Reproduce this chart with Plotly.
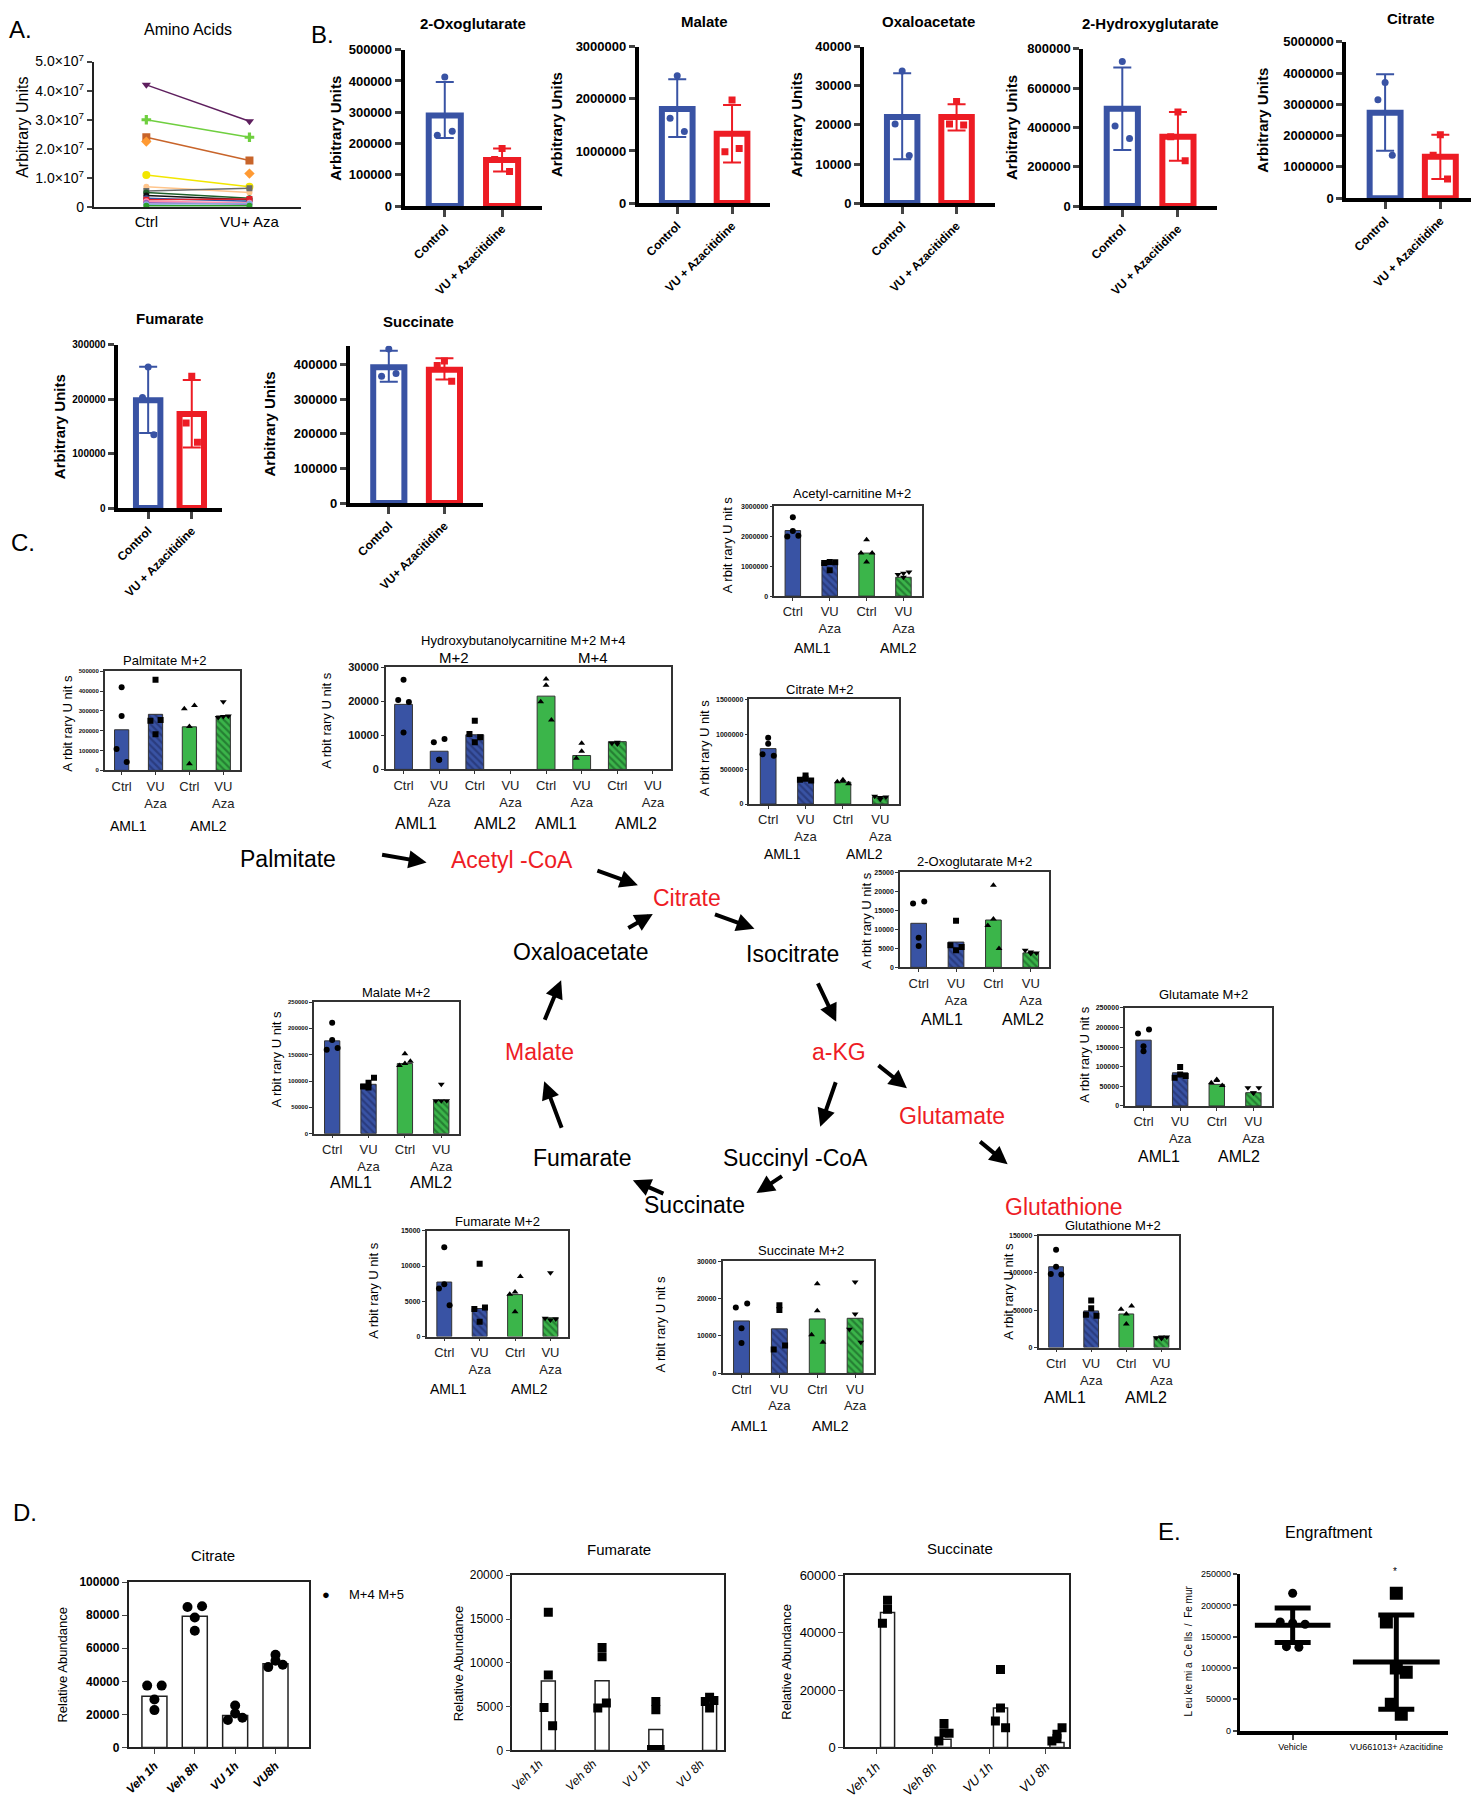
import plotly.graph_objects as go

W, H = 1479, 1800
OFF = 8                      # page body margin: the figure starts 8px in from the window corner
FW, FH = W - OFF, H - OFF
SANS = "Liberation Sans, Arial, sans-serif"
BLUE, RED, GREEN = "#3953a4", "#ed1c24", "#3bb54a"
DARK_B, DARK_G = "#1b2559", "#0f4a1c"

# ---------------- A. Amino acids (Ctrl -> VU+Aza) ----------------
aa_groups = ["Ctrl", "VU+ Aza"]
aa_ctrl = [4.2e7, 3.0e7, 2.4e7, 2.25e7, 1.1e7, 0.7e7, 0.55e7, 0.5e7, 0.4e7, 0.3e7, 0.25e7, 0.2e7, 0.15e7, 0.1e7, 0.05e7]
aa_vu = [2.95e7, 2.4e7, 1.6e7, 1.15e7, 0.7e7, 0.5e7, 0.65e7, 0.3e7, 0.25e7, 0.2e7, 0.28e7, 0.15e7, 0.1e7, 0.12e7, 0.05e7]
aa_colors = ["#5e1f5e", "#6fcf3f", "#c8642a", "#ff9a33", "#f2e600", "#ffc58c", "#6b6b6b",
             "#1f5f2a", "#111111", "#2f55a8", "#e0202a", "#ff8fb0", "#9b59b6", "#88aadd", "#2ca02c"]
aa_symbols = ["triangle-down", "cross", "square", "diamond", "circle", "circle", "square",
              "circle", "circle", "circle", "square", "circle", "circle", "circle", "circle"]

# ---------------- B. Total metabolite pools ----------------
b_titles = ["2-Oxoglutarate", "Malate", "Oxaloacetate", "2-Hydroxyglutarate", "Citrate", "Fumarate", "Succinate"]
b_vu_labels = ["VU + Azacitidine"] * 6 + ["VU+ Azacitidine"]
b_ctrl_mean = [289500, 1807600, 22000, 494800, 2727000, 198000, 393000]
b_ctrl_hi = [397000, 2378000, 33200, 704400, 3964000, 259400, 440000]
b_ctrl_lo = [218000, 1268000, 11230, 285000, 1512000, 137600, 350500]
b_ctrl_pts = [[412600, 226300, 239000], [2442000, 1630000, 1376000], [33800, 20250, 12170],
              [734600, 407500, 343800], [3700000, 3150000, 1374000], [259000, 203000, 134500],
              [445700, 366700, 374300]]
b_vu_mean = [147400, 1332000, 22000, 352000, 1321000, 172700, 385700]
b_vu_hi = [184000, 1884000, 25280, 478000, 2030000, 235000, 419000]
b_vu_lo = [110500, 780000, 18550, 231000, 613000, 111000, 357000]
b_vu_pts = [[184000, 149000, 110500], [1979000, 983000, 1046000], [25960, 20250, 20000],
            [478000, 352000, 231000], [2030000, 1374000, 613000], [242000, 156000, 121000],
            [411000, 398000, 352000]]

# ---------------- C. M+2 labelling (Ctrl, VU Aza | AML1, AML2) ----------------
acetyl_bar = [2184000, 1136000, 1434000, 629000]
acetyl_pts = [[2625000, 2173000, 1985000, 2007000], [1136000, 860000, 1103000, 1125000],
              [1875000, 1136000, 1434000, 1434000], [629000, 761000, 717000, 805000]]
palm_bar = [205000, 283000, 220000, 275000]
palm_pts = [[420000, 275000, 108000, 41700], [458000, 183000, 250000, 255000],
            [221700, 33000, 311700, 328000], [346700, 271700, 266700, 275000]]
hydroxy_bar = [19130, 5340, 10190, None, 21550, 4080, 8160, None]
hydroxy_pts = [[26400, 10870, 20390, 19800], [2820, 2820, 7960, 8930], [14270, 7960, 10390, 9420], [],
               [26600, 24760, 19900, 14560], [7670, 5340, 3300], [7960, 7480, 7670], []]
cit2_bar = [792000, 361000, 314000, 103000]
cit2_pts = [[947000, 862500, 712500, 689000], [361000, 408000, 347000, 337500],
            [347000, 330000, 320000, 290000], [94000, 70000, 112500, 100000]]
oxo2_bar = [11590, 6660, 12460, 3810]
oxo2_pts = [[7790, 5620, 16780, 17300], [12280, 4500, 5800, 5360],
            [21630, 12720, 10990, 4930], [4070, 3630, 4500, 3800]]
mal2_bar = [176250, 93750, 133125, 62500]
mal2_pts = [[210600, 178100, 159400, 162500], [87500, 96900, 89400, 106250],
            [151900, 133125, 129400, 137500], [93750, 62500, 62500, 62500]]
glu2_bar = [167800, 84700, 55000, 33900]
glu2_pts = [[152500, 139800, 184700, 194900], [99200, 80500, 72000, 76300],
            [67800, 65200, 59300, 52500], [34000, 33000, 46600, 46600]]
gsh2_bar = [108300, 49100, 45000, 14000]
gsh2_pts = [[131000, 108300, 98700, 98000], [63200, 52600, 43900, 42500],
            [31600, 45000, 51300, 55700], [14000, 12000, 13000, 14000]]
fum2_bar = [7730, 3980, 5950, 2670]
fum2_pts = [[12660, 7400, 6800, 4450], [10310, 2110, 3900, 4130],
            [3520, 6330, 6000, 8530], [9050, 2340, 2600, 2500]]
suc2_bar = [14030, 11900, 14560, 14740]
suc2_pts = [[12090, 8120, 17650, 18700], [18260, 16940, 6350, 7410],
            [24000, 16760, 10320, 8290], [24440, 15880, 11820, 8290]]

# ---------------- D. M+4/M+5 time course ----------------
d_groups = ["Veh 1h", "Veh 8h", "VU 1h", "VU8h"]
d_groups2 = ["Veh 1h", "Veh 8h", "VU 1h", "VU 8h"]
citd_bar = [31000, 79400, 19400, 50600]
citd_pts = [[29000, 22600, 37400, 37400], [78600, 70600, 85000, 85400],
            [25400, 20600, 16600, 18000], [56000, 52400, 48600, 50000]]
fumd_bar = [7920, 7960, 2380, 5770]
fumd_pts = [[15770, 8600, 4900, 2830], [11740, 10680, 4830, 5400],
            [5580, 4640, 110, 110], [6080, 4830, 5580, 5700]]
sucd_bar = [47040, 2870, 13770, 1720]
sucd_pts = [[51280, 48180, 43250], [8370, 5160, 2290, 4930],
            [27190, 13770, 9180, 6880], [4590, 3100, 2290, 6880]]

# ---------------- E. Engraftment ----------------
e_groups = ["Vehicle", "VU661013+ Azacitidine"]
eng_veh = [219500, 173700, 172100, 170000, 134200, 133200]
eng_vu = [219500, 173700, 100000, 93200, 42100, 26300]
eng_mean = [168400, 109500]
eng_sd = [27400, 75500]

OFF3 = [0.0, -0.13, 0.13]
OFF4 = [0.0, 0.0, -0.15, 0.15]
OFF6 = [0.0, -0.12, 0.0, 0.12, -0.06, 0.06]

fig = go.Figure()
ann = []
n_axes = [0]


def px(x):
    return (x - OFF) / FW


def py(y):
    return 1 - (y - OFF) / FH


def axes(box, xr, yr, xa=None, ya=None):
    n_axes[0] += 1
    s = "" if n_axes[0] == 1 else str(n_axes[0])
    x0, x1, y0, y1 = box
    xd = dict(domain=[px(x0), min(px(x1), 1)], range=xr, anchor="y" + s, showgrid=False, zeroline=False)
    yd = dict(domain=[py(y1), py(y0)], range=yr, anchor="x" + s, showgrid=False, zeroline=False)
    xd.update(xa or {})
    yd.update(ya or {})
    fig.update_layout(**{"xaxis" + s: xd, "yaxis" + s: yd})
    return "x" + s, "y" + s


def text(x, y, s, size=13, color="black", bold=False, angle=0, xanchor="center"):
    ann.append(dict(x=px(x), y=py(y), xref="paper", yref="paper", text=s, showarrow=False,
                    textangle=angle, xanchor=xanchor, yanchor="middle",
                    font=dict(family=SANS, size=size, color=color, weight="bold" if bold else "normal")))


def arrow(x0, y0, x1, y1):
    ann.append(dict(x=px(x1), y=py(y1), xref="paper", yref="paper", ax=x0 - x1, ay=y0 - y1,
                    axref="pixel", ayref="pixel", showarrow=True, arrowhead=2, arrowsize=0.9,
                    arrowwidth=4, arrowcolor="black", text=""))


# ---------- Panel A ----------
xa, ya = axes((89, 297, 52, 199), [-0.51, 1.5], [0, 5e7],
              dict(showline=True, linewidth=2, linecolor="#222", tickvals=[0, 1], ticktext=aa_groups,
                   tickfont=dict(family=SANS, size=15, color="black")),
              dict(showline=True, linewidth=2, linecolor="#222", ticks="outside", ticklen=5, tickwidth=2,
                   tickvals=[0, 1e7, 2e7, 3e7, 4e7, 5e7],
                   ticktext=["0"] + ["%d.0×10<sup>7</sup>" % k for k in range(1, 6)],
                   tickfont=dict(family=SANS, size=14, color="black")))
for i in range(len(aa_ctrl)):
    fig.add_trace(go.Scatter(x=[0, 1], y=[aa_ctrl[i], aa_vu[i]], xaxis=xa, yaxis=ya,
                             mode="markers" if aa_symbols[i] == "diamond" else "lines+markers",
                             line=dict(color=aa_colors[i], width=1.5),
                             marker=dict(symbol=aa_symbols[i], size=8 if i < 5 else 6, color=aa_colors[i])))
text(16, 20, "A.", 24)
text(184, 20, "Amino Acids", 16)
text(18, 118, "Arbitrary Units", 16, angle=-90)

# ---------- Panel B ----------
b_boxes = [(401, 539, 40, 198), (636, 768, 37, 195), (862, 993, 37, 195), (1082, 1216, 39, 198),
           (1346, 1479, 32, 190), (113, 218, 338, 503), (346, 480, 339, 498)]
b_ymax = [500000, 3000000, 40000, 800000, 5000000, 300000, 455000]
b_dtick = [100000, 1000000, 10000, 200000, 1000000, 100000, 100000]
b_tick_size = [13, 13, 13, 13, 13, 10, 13]
b_title_xy = [(470, 14), (702, 12), (927, 12), (1149, 14), (1411, 8), (166, 312), (415, 315)]
b_ylab_x = [332, 554, 795, 1010, 1262, 55, 265]

for k in range(len(b_titles)):
    box = b_boxes[k]
    xa, ya = axes(box, [-0.7, 1.7], [0, b_ymax[k]],
                  dict(showline=True, linewidth=4, linecolor="black", ticks="outside", ticklen=7, tickwidth=3,
                       tickvals=[0, 1], ticktext=["Control", b_vu_labels[k]], tickangle=-45,
                       tickfont=dict(family=SANS, size=12, color="black", weight="bold")),
                  dict(showline=True, linewidth=4, linecolor="black", ticks="outside", ticklen=6, tickwidth=3,
                       dtick=b_dtick[k], tickformat="d",
                       tickfont=dict(family=SANS, size=b_tick_size[k], color="black", weight="bold")))
    for j, (mean, hi, lo, pts, col, sym) in enumerate([
            (b_ctrl_mean[k], b_ctrl_hi[k], b_ctrl_lo[k], b_ctrl_pts[k], BLUE, "circle"),
            (b_vu_mean[k], b_vu_hi[k], b_vu_lo[k], b_vu_pts[k], RED, "square")]):
        fig.add_trace(go.Bar(x=[j], y=[mean], width=0.56, xaxis=xa, yaxis=ya,
                             marker=dict(color="white", line=dict(color=col, width=6)),
                             error_y=dict(type="data", symmetric=False, array=[hi - mean],
                                          arrayminus=[mean - lo], color=col, thickness=2, width=9)))
        fig.add_trace(go.Scatter(x=[j + OFF3[m] for m in range(len(pts))], y=pts, mode="markers",
                                 xaxis=xa, yaxis=ya, marker=dict(symbol=sym, size=7, color=col)))
    text(b_title_xy[k][0], b_title_xy[k][1], b_titles[k], 15, bold=True)
    text(b_ylab_x[k], (box[2] + box[3]) / 2, "Arbitrary Units", 15, bold=True, angle=-90)
text(319, 25, "B.", 24)
text(18, 538, "C.", 24)

# ---------- Panel C ----------
SYM4 = ["circle", "square", "triangle-up", "triangle-down"]
KIND4 = ["b", "bh", "g", "gh"]
YLAB = "A rbit rary U nit s"


def c_panel(box, ymax, dtick, bars, pts, kinds, syms, title, title_xy, ylab_xy, amls,
            tick_size=7, title_size=13, aml_size=14, bw=0.42):
    n = len(bars)
    cats = (["Ctrl", "VU<br>Aza"] * 4)[:n]
    xa, ya = axes(box, [-0.5, n - 0.5], [0, ymax],
                  dict(showline=True, mirror=True, linecolor="#333", linewidth=1.5, ticks="outside",
                       ticklen=3, tickcolor="#333", tickvals=list(range(n)), ticktext=cats,
                       tickfont=dict(family=SANS, size=13, color="#222")),
                  dict(showline=True, mirror=True, linecolor="#333", linewidth=1.5, ticks="outside",
                       ticklen=3, tickcolor="#333", dtick=dtick, tickformat="d",
                       tickfont=dict(family=SANS, size=tick_size, color="#111", weight="bold")))
    for i, v in enumerate(bars):
        if v is None:
            continue
        base = BLUE if kinds[i][0] == "b" else GREEN
        marker = dict(color=base, line=dict(color="#333", width=1))
        if kinds[i].endswith("h"):
            marker["pattern"] = dict(shape="\\", fgcolor=DARK_B if kinds[i][0] == "b" else DARK_G,
                                     bgcolor=base, size=5, solidity=0.45)
        fig.add_trace(go.Bar(x=[i], y=[v], width=bw, marker=marker, xaxis=xa, yaxis=ya))
    for i, p in enumerate(pts):
        if not p:
            continue
        fig.add_trace(go.Scatter(x=[i + OFF4[j % 4] for j in range(len(p))], y=p, mode="markers",
                                 xaxis=xa, yaxis=ya, marker=dict(symbol=syms[i], size=6, color="black")))
    text(title_xy[0], title_xy[1], title, title_size)
    text(ylab_xy[0], ylab_xy[1], YLAB, 13, angle=-90)
    for s, x, y in amls:
        text(x, y, s, aml_size)


c_panel((772, 920, 501, 592), 3000000, 1000000, acetyl_bar, acetyl_pts, KIND4, SYM4,
        "Acetyl-carnitine M+2", (850, 488), (725, 540), [("AML1", 810, 644), ("AML2", 897, 644)])
c_panel((100, 236, 668, 768), 500000, 100000, palm_bar, palm_pts, KIND4, SYM4,
        "Palmitate M+2", (160, 657), (63, 720), [("AML1", 124, 824), ("AML2", 204, 824)], tick_size=6)
c_panel((382, 668, 664, 767), 30000, 10000, hydroxy_bar, hydroxy_pts,
        ["b", "b", "bh", None, "g", "g", "gh", None],
        ["circle", "circle", "square", "circle", "triangle-up", "triangle-up", "triangle-down", "circle"],
        "Hydroxybutanolycarnitine M+2 M+4", (520, 637), (323, 717),
        [("AML1", 412, 822), ("AML2", 492, 822), ("AML1", 553, 822), ("AML2", 633, 822)],
        tick_size=11, aml_size=16, bw=0.5)
text(451, 654, "M+2", 15)
text(590, 654, "M+4", 15)
c_panel((747, 897, 696, 802), 1500000, 500000, cit2_bar, cit2_pts, KIND4, SYM4,
        "Citrate M+2", (818, 686), (702, 745), [("AML1", 780, 852), ("AML2", 862, 852)])
c_panel((898, 1048, 871, 967), 25000, 5000, oxo2_bar, oxo2_pts, KIND4, SYM4,
        "2-Oxoglutarate M+2", (973, 860), (865, 920), [("AML1", 940, 1020), ("AML2", 1021, 1020)], aml_size=16)
c_panel((310, 456, 1002, 1135), 250000, 50000, mal2_bar, mal2_pts, KIND4, SYM4,
        "Malate M+2", (392, 992), (272, 1060), [("AML1", 347, 1184), ("AML2", 427, 1184)], tick_size=6, aml_size=16)
c_panel((1124, 1271, 1008, 1107), 250000, 50000, glu2_bar, glu2_pts, KIND4, SYM4,
        "Glutamate M+2", (1203, 994), (1083, 1055), [("AML1", 1158, 1158), ("AML2", 1238, 1158)], aml_size=16)
c_panel((1037, 1178, 1238, 1351), 150000, 50000, gsh2_bar, gsh2_pts, KIND4, SYM4,
        "Glutathione M+2", (1112, 1228), (1006, 1294), [("AML1", 1064, 1401), ("AML2", 1145, 1401)], aml_size=16)
c_panel((423, 565, 1233, 1340), 15000, 5000, fum2_bar, fum2_pts, KIND4, SYM4,
        "Fumarate M+2", (494, 1224), (369, 1293), [("AML1", 445, 1393), ("AML2", 526, 1393)])
c_panel((720, 872, 1264, 1377), 30000, 10000, suc2_bar, suc2_pts, KIND4, SYM4,
        "Succinate M+2", (799, 1253), (658, 1327), [("AML1", 747, 1430), ("AML2", 828, 1430)])

# ---------- pathway ----------
for s, x, y, c in [("Palmitate", 284, 858, "black"), ("Acetyl -CoA", 509, 859, "red"),
                   ("Citrate", 684, 897, "red"), ("Oxaloacetate", 578, 951, "black"),
                   ("Isocitrate", 790, 953, "black"), ("Malate", 536, 1052, "red"),
                   ("a-KG", 837, 1052, "red"), ("Glutamate", 950, 1117, "red"),
                   ("Fumarate", 579, 1160, "black"), ("Succinyl -CoA", 793, 1160, "black"),
                   ("Succinate", 692, 1207, "black"), ("Glutathione", 1063, 1209, "red")]:
    text(x, y, s, 23, color="#ee1c25" if c == "red" else "black")
arrow(377, 853, 423, 861)
arrow(593, 869, 635, 884)
arrow(624, 928, 650, 913)
arrow(711, 913, 752, 928)
arrow(815, 982, 834, 1022)
arrow(875, 1065, 905, 1089)
arrow(977, 1142, 1006, 1166)
arrow(834, 1082, 818, 1128)
arrow(781, 1177, 754, 1195)
arrow(662, 1196, 630, 1182)
arrow(559, 1130, 541, 1082)
arrow(541, 1021, 558, 980)

# ---------- Panel D ----------
def d_panel(box, xr, ymax, dtick, bars, pts, labels, shift, bw, sym, msize, title, title_xy, ylab_x,
            tickfont, off, ticks):
    xa, ya = axes(box, xr, [0, ymax],
                  dict(showline=True, mirror=True, linecolor="#222", linewidth=1.5, ticks=ticks, ticklen=5,
                       tickvals=[0, 1, 2, 3], ticktext=labels, tickangle=-45, tickfont=tickfont),
                  dict(showline=True, mirror=True, linecolor="#222", linewidth=1.5, ticks="outside", ticklen=5,
                       dtick=dtick, tickformat="d", tickfont=tickfont))
    fig.add_trace(go.Bar(x=[i + shift for i in range(4)], y=bars, width=bw, xaxis=xa, yaxis=ya,
                         marker=dict(color="white", line=dict(color="#222", width=1.5))))
    for i, p in enumerate(pts):
        fig.add_trace(go.Scatter(x=[i + shift + off[j % 4] for j in range(len(p))], y=p, mode="markers",
                                 xaxis=xa, yaxis=ya, marker=dict(symbol=sym, size=msize, color="black")))
    text(title_xy[0], title_xy[1], title, 15)
    text(ylab_x, (box[2] + box[3]) / 2, "Relative Abundance", 13, angle=-90)


d_panel((124, 305, 1588, 1755), [-0.64, 3.83], 100000, 20000, citd_bar, citd_pts,
        ["<b><i>%s</i></b>" % g for g in d_groups], 0.0, 0.62, "circle", 10, "Citrate", (209, 1561), 58,
        dict(family=SANS, size=12, color="black", weight="bold"), [0.0, 0.0, -0.18, 0.18], "outside")
d_panel((509, 721, 1581, 1758), [-0.5, 3.43], 20000, 5000, fumd_bar, fumd_pts,
        ["<i>%s</i>" % g for g in d_groups2], 0.17, 0.26, "square", 9, "Fumarate", (616, 1555), 455,
        dict(family=SANS, size=12, color="black"), [0.0, 0.0, -0.08, 0.08], "")
d_panel((843, 1068, 1581, 1755), [-0.55, 3.42], 60000, 20000, sucd_bar, sucd_pts,
        ["<i>%s</i>" % g for g in d_groups2], 0.2, 0.25, "square", 9, "Succinate", (958, 1554), 784,
        dict(family=SANS, size=13, color="black"), [0.0, 0.0, -0.09, 0.09], "outside")
text(20, 1518, "D.", 24)
text(322, 1600, "●", 13)
text(373, 1600, "M+4 M+5", 13)

# ---------- Panel E ----------
xa, ya = axes((1239, 1448, 1580, 1738), [-0.51, 1.5], [0, 250000],
              dict(showline=True, linewidth=4, linecolor="black", ticks="outside", ticklen=5, tickwidth=2,
                   tickvals=[0, 1], ticktext=e_groups, tickfont=dict(family=SANS, size=9, color="black")),
              dict(showline=True, linewidth=3, linecolor="black", ticks="outside", ticklen=4, tickwidth=2,
                   dtick=50000, tickformat="d", tickfont=dict(family=SANS, size=9, color="black")))
for g, msz in enumerate([54, 62]):
    fig.add_trace(go.Scatter(x=[g], y=[eng_mean[g]], mode="markers", xaxis=xa, yaxis=ya,
                             marker=dict(symbol="line-ew", size=msz, color="black",
                                         line=dict(width=5, color="black")),
                             error_y=dict(type="data", array=[eng_sd[g]], color="black", thickness=5, width=18)))
fig.add_trace(go.Scatter(x=[OFF6[j] for j in range(len(eng_veh))], y=eng_veh, mode="markers",
                         xaxis=xa, yaxis=ya, marker=dict(symbol="circle", size=9, color="black")))
fig.add_trace(go.Scatter(x=[1 + OFF6[j] * 0.8 for j in range(len(eng_vu))], y=eng_vu, mode="markers",
                         xaxis=xa, yaxis=ya, marker=dict(symbol="square", size=13, color="black")))
text(1168, 1537, "E.", 24)
text(1328, 1538, "Engraftment", 16)
text(1395, 1577, "*", 10)
text(1187, 1657, "L eu ke mi a  Ce lls  /  Fe mur", 10, angle=-90)

fig.update_layout(width=FW, height=FH, margin=dict(l=0, r=0, t=0, b=0), showlegend=False,
                  plot_bgcolor="white", paper_bgcolor="white", annotations=ann,
                  font=dict(family=SANS, color="black"))
fig.write_html("out.html")
